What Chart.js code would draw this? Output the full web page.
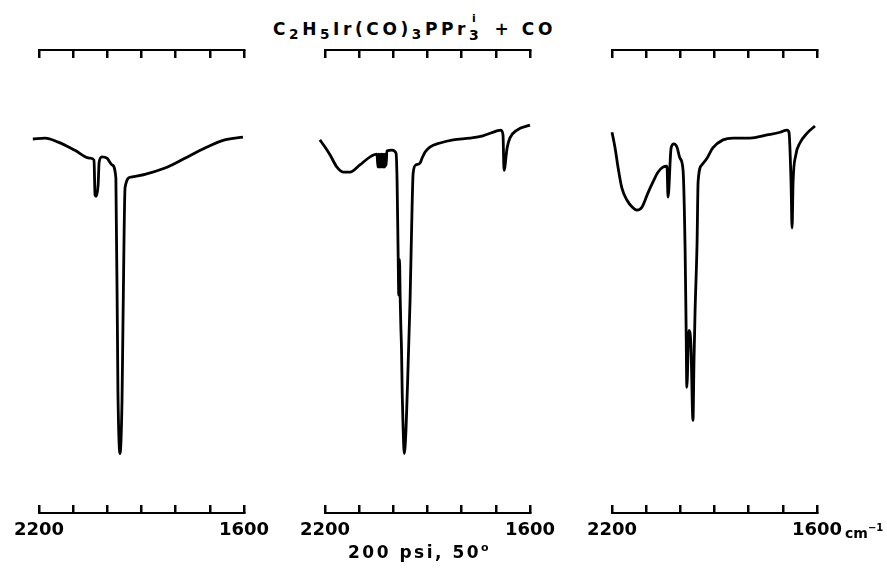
<!DOCTYPE html>
<html>
<head>
<meta charset="utf-8">
<script src="https://cdn.jsdelivr.net/npm/chart.js@4"></script>
<style>
  body { margin: 0; background: #fff; }
  #fig { position: relative; width: 887px; height: 570px; overflow: hidden;
         font-family: "DejaVu Sans", sans-serif; font-weight: bold; color: #000; }
  canvas { position: absolute; top: 0; }
  .txt { position: absolute; white-space: nowrap; line-height: 20px; }
  #title { left: 273px; top: 19px; font-size: 17px; letter-spacing: 3.6px; }
  #title sub { font-size: 80%; vertical-align: -4px; }
  .stack { display: inline-block; position: relative; width: 16px; height: 14px; }
  .stack .up { position: absolute; left: 3px; top: -12px; font-size: 11px; }
  .stack .dn { position: absolute; left: 0; top: 4px; font-size: 14px; }
  #caption { left: 348px; top: 538px; font-size: 17px; letter-spacing: 2.5px; }
  #caption sup { font-size: 11px; vertical-align: 7px; }
  #unit { left: 845px; top: 518px; font-size: 14px; }
  #unit sup { font-size: 10px; vertical-align: 7px; }
</style>
</head>
<body>
<div id="fig">
  <div class="txt" id="title">C<sub>2</sub>H<sub>5</sub>Ir(CO)<sub>3</sub>PPr<span class="stack"><span class="up">i</span><span class="dn">3</span></span> + CO</div>
  <canvas id="c1" width="273" height="570" style="left:5px"></canvas>
  <canvas id="c2" width="273" height="570" style="left:291px"></canvas>
  <canvas id="c3" width="273" height="570" style="left:578px"></canvas>
  <div class="txt" id="unit">cm<sup>−1</sup></div>
  <div class="txt" id="caption">200 psi, 50<sup>o</sup></div>
</div>
<script>
// wavenumber range of every panel and the labelled ends of the bottom ruler
const waveMin = 1600;
const waveMax = 2200;
const waveStep = 100;
const endLabels = [2200, 1600];

// panel 1 (cm-1, % transmission)
const p1Wave = [2218, 2182, 2144, 2095, 2051, 2039, 2036, 2033, 2027, 2024, 2016, 2001, 1986, 1975,
  1969, 1963, 1957, 1954, 1948, 1931, 1890, 1831, 1811, 1773, 1714, 1656, 1603];
const p1Trans = [81.9, 82.1, 81.2, 79.4, 77.6, 77.2, 69.4, 69.1, 71.6, 76.7, 77.9, 77.6, 76.1, 73.2,
  25.7, 11.6, 23.5, 42.1, 71.1, 73.4, 74.0, 75.4, 76.1, 77.6, 79.9, 81.7, 82.3];

// panel 2
const p2Wave = [2215, 2200, 2185, 2165, 2147, 2127, 2098, 2068, 2048,
  2045, 2043, 2041, 2039, 2037, 2035, 2033, 2031, 2029, 2027, 2025, 2023, 2021,
  2019, 2004, 1992, 1989, 1986, 1984, 1982, 1980, 1978, 1976, 1974, 1972,
  1968, 1963, 1960, 1951, 1945, 1942, 1934, 1922, 1916, 1907, 1893, 1863, 1825,
  1776, 1738, 1697, 1685, 1679, 1676, 1667, 1659, 1638, 1600];
const p2Trans = [81.7, 80.1, 78.3, 75.6, 74.5, 74.5, 76.1, 77.9, 78.5,
  75.6, 78.5, 75.6, 78.5, 75.6, 78.5, 75.6, 78.5, 75.6, 78.5, 75.6, 78.5, 76.0,
  79.2, 79.4, 78.7, 72.3, 56.4, 47.0, 55.0, 46.5, 40.0, 34.7, 25.0, 19.0,
  11.6, 16.8, 23.5, 45.9, 67.1, 74.3, 76.1, 76.5, 77.6, 79.0, 80.1, 81.0, 81.7,
  82.1, 82.6, 83.7, 83.9, 82.8, 74.9, 79.9, 82.1, 83.9, 85.0];

// panel 3
const p3Wave = [2200, 2191, 2182, 2171, 2156, 2141, 2127, 2112, 2095, 2080, 2065, 2051, 2039,
  2036, 2027, 2019, 2010, 2001, 1992, 1986, 1983, 1981, 1975, 1969, 1963, 1960, 1957,
  1951, 1948, 1937, 1922, 1905, 1875, 1846, 1796, 1746, 1708, 1688, 1682, 1676, 1673,
  1670, 1662, 1650, 1629, 1606];
const p3Trans = [83.4, 79.9, 75.4, 70.9, 68.2, 66.7, 66.0, 66.7, 69.8, 72.3, 74.5, 75.6, 75.8,
  68.9, 79.9, 80.8, 80.1, 77.6, 74.9, 57.0, 39.1, 26.4, 39.1, 35.8, 19.0, 32.4, 43.0,
  58.8, 72.3, 76.1, 77.6, 79.9, 81.7, 82.1, 82.1, 82.8, 83.4, 83.9, 83.4, 72.3, 62.0,
  72.3, 78.3, 81.0, 83.2, 84.8];

const ink = "#000";
const labelFont = { family: "DejaVu Sans", size: 18, weight: "bold" };

function waveAxis(position, weight, part) {
  // part: "ticks" draws the ruler ticks, "line" draws the ruler line (and end labels)
  const axis = {
    type: "linear",
    position: position,
    weight: weight,
    min: waveMin,
    max: waveMax,
    reverse: true,
    border: { display: part === "line", color: ink, width: 2 },
    grid: {
      display: part === "ticks",
      drawOnChartArea: false,
      drawTicks: part === "ticks",
      tickLength: 8,
      color: ink,
      lineWidth: 2.5,
    },
    ticks: { display: false, stepSize: waveStep },
  };
  if (part === "line" && position === "bottom") {
    axis.ticks = {
      display: true,
      stepSize: waveStep,
      autoSkip: false,
      maxRotation: 0,
      minRotation: 0,
      padding: 6,
      color: ink,
      font: labelFont,
      callback: (v) => (endLabels.includes(v) ? String(v) : ""),
    };
  }
  return axis;
}

function drawPanel(id, wave, trans) {
  const points = [];
  for (let i = 0; i < wave.length; i++) {
    points.push({ x: wave[i], y: trans[i] });
  }
  new Chart(document.getElementById(id), {
    type: "line",
    data: {
      datasets: [
        {
          data: points,
          xAxisID: "x",
          yAxisID: "y",
          borderColor: ink,
          borderWidth: 2.8,
          pointRadius: 0,
          cubicInterpolationMode: "monotone",
          clip: false,
        },
      ],
    },
    options: {
      responsive: false,
      animation: false,
      layout: { padding: { left: 34, right: 34, top: 50, bottom: 23 } },
      plugins: { legend: { display: false }, tooltip: { enabled: false } },
      scales: {
        x: waveAxis("top", 0, "ticks"),
        xTopLine: waveAxis("top", 1, "line"),
        xBottomTicks: waveAxis("bottom", 0, "ticks"),
        xBottomLine: waveAxis("bottom", 1, "line"),
        y: { display: false, min: 0, max: 100 },
      },
    },
  });
}

drawPanel("c1", p1Wave, p1Trans);
drawPanel("c2", p2Wave, p2Trans);
drawPanel("c3", p3Wave, p3Trans);
</script>
</body>
</html>
